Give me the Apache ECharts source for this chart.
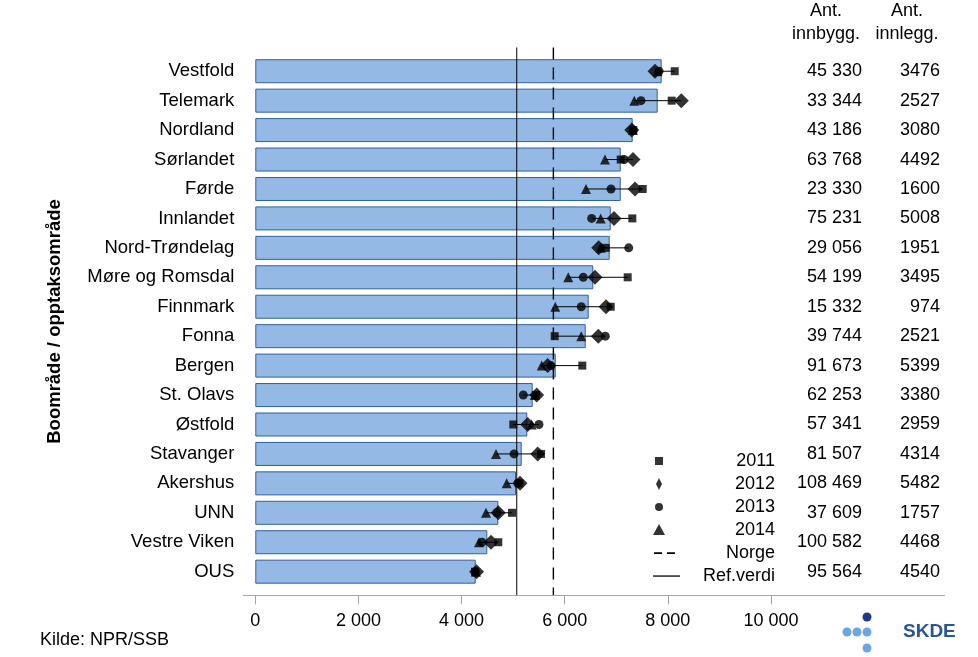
<!DOCTYPE html>
<html>
<head>
<meta charset="utf-8">
<script src="https://cdn.jsdelivr.net/npm/echarts@6/dist/echarts.min.js"></script>
<style>
html,body{margin:0;padding:0;background:#fff;}
#chart{width:978px;height:657px;}
</style>
</head>
<body>
<div id="chart"></div>
<script>
const CATEGORIES = ['Vestfold','Telemark','Nordland','Sørlandet','Førde','Innlandet','Nord-Trøndelag','Møre og Romsdal','Finnmark','Fonna','Bergen','St. Olavs','Østfold','Stavanger','Akershus','UNN','Vestre Viken','OUS'];
const AVERAGE = [7880,7803,7318,7086,7086,6892,6872,6554,6465,6407,5825,5379,5274,5166,5055,4712,4499,4274];
const Y2011 = [8133,8074,7330,7086,7512,7311,6795,7221,6892,5806,6341,5440,5003,5540,5120,4978,4712,4260];
const Y2012 = [7751,8261,7300,7324,7363,6956,6659,6587,6801,6651,5670,5457,5282,5476,5133,4712,4570,4290];
const Y2013 = [7830,7479,7320,7153,6898,6523,7241,6360,6321,6787,5735,5197,5501,5017,5090,4684,4396,4270];
const Y2014 = [7800,7349,7320,6781,6413,6698,6700,6069,5817,6321,5554,5420,5360,4667,4875,4474,4338,4280];
const NORGE = 5780;
const REF_VERDI = 5070;
const INNBYGG = [45330,33344,43186,63768,23330,75231,29056,54199,15332,39744,91673,62253,57341,81507,108469,37609,100582,95564];
const INNLEGG = [3476,2527,3080,4492,1600,5008,1951,3495,974,2521,5399,3380,2959,4314,5482,1757,4468,4540];
const X_MIN = 0, X_MAX = 10000, X_STEP = 2000;
const YEAR_NAMES = ['2011','2012','2013','2014'];
const HEADERS = ['Ant.\ninnbygg.', 'Ant.\ninnlegg.'];
const SOURCE = 'Kilde: NPR/SSB';
const Y_TITLE = 'Boområde / opptaksområde';

const FONT = 'Liberation Sans, Arial, Helvetica, sans-serif';
function spaced(n){ return String(n).replace(/\B(?=(\d{3})+(?!\d))/g, ' '); }

const chart = echarts.init(document.getElementById('chart'), null, {renderer:'canvas'});

const rangeData = CATEGORIES.map((c,i)=>{
  const vals=[Y2011[i],Y2012[i],Y2013[i],Y2014[i]];
  return [Math.min(...vals), Math.max(...vals), i];
});

function vline(dashed){
  return function(params, api){
    const x = api.coord([api.value(0), 0])[0];
    const cs = params.coordSys;
    return {
      type:'line',
      shape:{x1:x, y1:cs.y-9, x2:x, y2:cs.y+cs.height+9},
      style:{stroke:'#000', lineWidth: dashed?1.4:1, lineDash: dashed?[12,8]:null}
    };
  };
}

const BOX = 'path://M0,0M40,14';
const option = {
  animation:false,
  textStyle:{fontFamily:FONT},
  grid:{left:255.3, right:207, top:56.5, bottom:70.6},
  xAxis:{
    type:'value', min:X_MIN, max:X_MAX, interval:X_STEP, offset:9,
    axisLine:{show:false},
    axisTick:{show:true, length:9, lineStyle:{color:'#a6a6a6', width:1}},
    axisLabel:{fontSize:18, color:'#000', margin:17, fontFamily:FONT, formatter:(v)=>spaced(v)},
    splitLine:{show:false}
  },
  yAxis:[
    {
      type:'category', data:CATEGORIES, inverse:true,
      axisLine:{show:false}, axisTick:{show:false},
      axisLabel:{fontSize:18.5, color:'#000', margin:21, fontFamily:FONT},
      name:Y_TITLE, nameLocation:'middle', nameRotate:90, nameGap:191,
      nameTextStyle:{fontWeight:'bold', fontSize:18.5, color:'#000', fontFamily:FONT}
    },
    {
      type:'category', data:CATEGORIES, inverse:true, position:'right', offset:0,
      axisLine:{show:false}, axisTick:{show:false},
      axisLabel:{fontSize:18, color:'#000', margin:91, align:'right', fontFamily:FONT,
        formatter:(v, i)=>spaced(INNBYGG[i])}
    },
    {
      type:'category', data:CATEGORIES, inverse:true, position:'right', offset:0,
      axisLine:{show:false}, axisTick:{show:false},
      axisLabel:{fontSize:18, color:'#000', margin:169, align:'right', fontFamily:FONT,
        formatter:(v, i)=>String(INNLEGG[i])}
    }
  ],
  legend:{
    orient:'vertical', left:635, top:447, itemWidth:40, itemHeight:14, itemGap:5,
    selectedMode:false,
    itemStyle:{borderWidth:0},
    formatter:(name)=>'{a|'+name+'}',
    textStyle:{fontSize:18, color:'#000', fontFamily:FONT,
      rich:{a:{width:90, align:'right', fontSize:18, color:'#000', fontFamily:FONT}}},
    data:[
      {name:'2011', icon:BOX+'M15,3h8v8h-8z'},
      {name:'2012', icon:BOX+'M19,1L22,7L19,13L16,7z'},
      {name:'2013', icon:BOX+'M15,7a4,4 0 1,0 8,0a4,4 0 1,0 -8,0z'},
      {name:'2014', icon:BOX+'M19,1L25,12L13,12z'},
      {name:'Norge', icon:BOX+'M14,6.3h8v1.6h-8zM27,6.3h8v1.6h-8z'},
      {name:'Ref.verdi', icon:BOX+'M13,6.4h27v1.3h-27z'}
    ]
  },
  series:[
    {
      name:'Gjennomsnitt', type:'bar', data:AVERAGE, barWidth:24, z:1,
      itemStyle:{color:'#95b9e5', borderColor:'#30609f', borderWidth:1}
    },
    {
      name:'Ref.verdi', type:'custom', z:2, silent:true,
      itemStyle:{color:'#000'},
      data:[[REF_VERDI, 0]], encode:{x:0, y:1},
      renderItem:vline(false)
    },
    {
      name:'Norge', type:'custom', z:2, silent:true,
      itemStyle:{color:'#000'},
      data:[[NORGE, 0]], encode:{x:0, y:1},
      renderItem:vline(true)
    },
    {
      name:'range', type:'custom', z:3, silent:true,
      data:rangeData, encode:{x:[0,1], y:2},
      renderItem:function(params, api){
        const p1 = api.coord([api.value(0), params.dataIndex]);
        const p2 = api.coord([api.value(1), params.dataIndex]);
        return {type:'line', shape:{x1:p1[0], y1:p1[1], x2:p2[0], y2:p2[1]},
          style:{stroke:'#000', lineWidth:1}};
      }
    },
    {
      name:YEAR_NAMES[2], type:'scatter', z:4, symbol:'circle', symbolSize:9,
      itemStyle:{color:'#000'}, data:Y2013.map((v,i)=>[v,i])
    },
    {
      name:YEAR_NAMES[3], type:'scatter', z:5, symbol:'triangle', symbolSize:10,
      itemStyle:{color:'#000'}, data:Y2014.map((v,i)=>[v,i])
    },
    {
      name:YEAR_NAMES[0], type:'scatter', z:6, symbol:'rect', symbolSize:8,
      itemStyle:{color:'#000'}, data:Y2011.map((v,i)=>[v,i])
    },
    {
      name:YEAR_NAMES[1], type:'scatter', z:7, symbol:'diamond', symbolSize:15,
      itemStyle:{color:'#000'}, data:Y2012.map((v,i)=>[v,i])
    }
  ],
  graphic:[
    {type:'line', shape:{x1:243, y1:595.5, x2:945, y2:595.5}, style:{stroke:'#a6a6a6', lineWidth:1}, z:10},
    {type:'text', x:826, y:0, style:{text:HEADERS[0], align:'center', verticalAlign:'top', fontSize:18, lineHeight:23, fill:'#000', fontFamily:FONT}},
    {type:'text', x:907, y:0, style:{text:HEADERS[1], align:'center', verticalAlign:'top', fontSize:18, lineHeight:23, fill:'#000', fontFamily:FONT}},
    {type:'text', x:40, y:640, style:{text:SOURCE, align:'left', verticalAlign:'middle', fontSize:18, fill:'#000', fontFamily:FONT}},
    {type:'circle', shape:{cx:867, cy:617, r:4.5}, style:{fill:'#1f3a85'}},
    {type:'circle', shape:{cx:847, cy:632, r:4.5}, style:{fill:'#6aa7e0'}},
    {type:'circle', shape:{cx:857, cy:632, r:4.5}, style:{fill:'#6aa7e0'}},
    {type:'circle', shape:{cx:867, cy:632, r:4.5}, style:{fill:'#6aa7e0'}},
    {type:'circle', shape:{cx:867, cy:648, r:4.5}, style:{fill:'#6aa7e0'}},
    {type:'text', x:903, y:632, style:{text:'SKDE', align:'left', verticalAlign:'middle', fontSize:19, fontWeight:'bold', fill:'#2a5597', fontFamily:FONT}}
  ]
};
chart.setOption(option);
</script>
</body>
</html>
